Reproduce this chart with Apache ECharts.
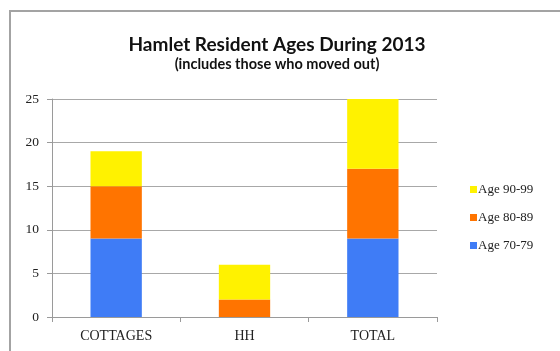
<!DOCTYPE html>
<html>
<head>
<meta charset="utf-8">
<script src="https://cdn.jsdelivr.net/npm/echarts@6/dist/echarts.min.js"></script>
<style>
  html, body { margin: 0; padding: 0; background: #fff; }
  #chart { width: 560px; height: 351px; }
</style>
</head>
<body>
<div id="chart"></div>
<script>
// Residents by housing type, stacked by age band
const categories = ['COTTAGES', 'HH', 'TOTAL'];
const age70to79 = [9, 0, 9];
const age80to89 = [6, 2, 8];
const age90to99 = [4, 4, 8];
const yTicks = { min: 0, max: 25, interval: 5 };

const serif = '"Liberation Serif", "DejaVu Serif", serif';
const sans = 'Lato, "Open Sans", "Noto Sans", sans-serif';

const chart = echarts.init(document.getElementById('chart'), null, { renderer: 'canvas' });

const barStyle = (color) => ({ color: color });

chart.setOption({
  animation: false,
  backgroundColor: '#ffffff',
  graphic: [{
    type: 'rect',
    shape: { x: 10, y: 11, width: 600, height: 400 },
    style: { fill: 'none', stroke: '#a3a3a3', lineWidth: 2 },
    z: 0
  }],
  title: {
    text: 'Hamlet Resident Ages During 2013',
    subtext: '(includes those who moved out)',
    left: 272,
    textAlign: 'center',
    top: 30,
    itemGap: 3,
    textStyle: { fontFamily: sans, fontWeight: 'bold', fontSize: 19, color: '#111' },
    subtextStyle: { fontFamily: sans, fontWeight: 'bold', fontSize: 14.5, color: '#111' }
  },
  legend: {
    orient: 'vertical',
    left: 465,
    top: 178,
    itemWidth: 7,
    itemHeight: 7,
    itemGap: 15,
    icon: 'rect',
    data: ['Age 90-99', 'Age 80-89', 'Age 70-79'],
    textStyle: { fontFamily: serif, fontSize: 13, color: '#222', padding: [0, 0, 0, -4] }
  },
  grid: { left: 52, right: 123, top: 99, bottom: 34, containLabel: false },
  xAxis: {
    type: 'category',
    data: categories,
    axisLine: { lineStyle: { color: '#9a9a9a', width: 1 } },
    axisTick: { show: true, alignWithLabel: false, length: 5, lineStyle: { color: '#9a9a9a' } },
    axisLabel: { fontFamily: serif, fontSize: 14, color: '#222', margin: 12 }
  },
  yAxis: {
    type: 'value',
    min: yTicks.min,
    max: yTicks.max,
    interval: yTicks.interval,
    axisLine: { show: true, lineStyle: { color: '#9a9a9a' } },
    axisTick: { show: true, length: 5, lineStyle: { color: '#9a9a9a' } },
    splitLine: { lineStyle: { color: '#a8a8a8', width: 1 } },
    axisLabel: { fontFamily: serif, fontSize: 13.5, color: '#222', margin: 13 }
  },
  series: [
    { name: 'Age 70-79', type: 'bar', stack: 'ages', data: age70to79, barWidth: '40%', itemStyle: barStyle('#3f7cf6') },
    { name: 'Age 80-89', type: 'bar', stack: 'ages', data: age80to89, barWidth: '40%', itemStyle: barStyle('#ff7400') },
    { name: 'Age 90-99', type: 'bar', stack: 'ages', data: age90to99, barWidth: '40%', itemStyle: barStyle('#fff200') }
  ]
});
</script>
</body>
</html>
